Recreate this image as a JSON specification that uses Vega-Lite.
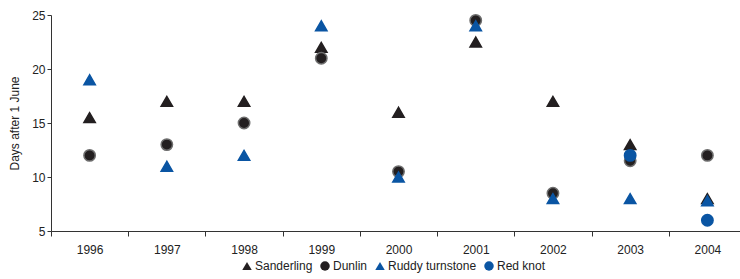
{
  "$schema": "https://vega.github.io/schema/vega-lite/v6.json",
  "autosize": "none",
  "width": 695,
  "height": 216,
  "padding": {"left": 51, "top": 15, "right": 0, "bottom": 48},
  "background": "white",
  "config": {
    "view": {"stroke": null},
    "font": "Liberation Sans",
    "axis": {"grid": false, "domainColor": "#333", "tickColor": "#333", "labelColor": "#222", "labelFontSize": 12, "titleFontWeight": "normal", "titleColor": "#222"}
  },
  "data": {
    "values": [
      {"year": "1996", "species": "Sanderling", "days": 15.5},
      {"year": "1997", "species": "Sanderling", "days": 17},
      {"year": "1998", "species": "Sanderling", "days": 17},
      {"year": "1999", "species": "Sanderling", "days": 22},
      {"year": "2000", "species": "Sanderling", "days": 16},
      {"year": "2001", "species": "Sanderling", "days": 22.5},
      {"year": "2002", "species": "Sanderling", "days": 17},
      {"year": "2003", "species": "Sanderling", "days": 13},
      {"year": "2004", "species": "Sanderling", "days": 8},
      {"year": "1996", "species": "Dunlin", "days": 12},
      {"year": "1997", "species": "Dunlin", "days": 13},
      {"year": "1998", "species": "Dunlin", "days": 15},
      {"year": "1999", "species": "Dunlin", "days": 21},
      {"year": "2000", "species": "Dunlin", "days": 10.5},
      {"year": "2001", "species": "Dunlin", "days": 24.5},
      {"year": "2002", "species": "Dunlin", "days": 8.5},
      {"year": "2003", "species": "Dunlin", "days": 11.5},
      {"year": "2004", "species": "Dunlin", "days": 12},
      {"year": "1996", "species": "Ruddy turnstone", "days": 19},
      {"year": "1997", "species": "Ruddy turnstone", "days": 11},
      {"year": "1998", "species": "Ruddy turnstone", "days": 12},
      {"year": "1999", "species": "Ruddy turnstone", "days": 24},
      {"year": "2000", "species": "Ruddy turnstone", "days": 10},
      {"year": "2001", "species": "Ruddy turnstone", "days": 24},
      {"year": "2002", "species": "Ruddy turnstone", "days": 8},
      {"year": "2003", "species": "Ruddy turnstone", "days": 8},
      {"year": "2004", "species": "Ruddy turnstone", "days": 7.8},
      {"year": "2003", "species": "Red knot", "days": 12},
      {"year": "2004", "species": "Red knot", "days": 6}
    ]
  },
  "mark": {"type": "point", "filled": true, "opacity": 1, "size": 130, "strokeWidth": 1.5},
  "encoding": {
    "x": {
      "field": "year", "type": "ordinal",
      "scale": {"paddingInner": 0, "paddingOuter": 0},
      "axis": {"title": null, "labelAngle": 0, "tickBand": "extent", "tickSize": 5, "labelPadding": 8}
    },
    "y": {
      "field": "days", "type": "quantitative",
      "scale": {"domain": [5, 25], "nice": false, "zero": false},
      "axis": {"title": "Days after 1 June", "values": [5, 10, 15, 20, 25], "tickSize": 4, "titleFontSize": 12, "titlePadding": 10}
    },
    "shape": {
      "field": "species", "type": "nominal",
      "scale": {"domain": ["Sanderling", "Dunlin", "Ruddy turnstone", "Red knot"], "range": ["triangle-up", "circle", "triangle-up", "circle"]},
      "legend": {"title": null, "orient": "none", "legendX": 190, "legendY": 245, "direction": "horizontal", "labelFontSize": 12, "labelColor": "#222", "symbolSize": 90, "symbolOffset": 0, "labelOffset": 2, "columnPadding": 6, "symbolStrokeWidth": 0}
    },
    "color": {
      "field": "species", "type": "nominal",
      "scale": {"domain": ["Sanderling", "Dunlin", "Ruddy turnstone", "Red knot"], "range": ["#231f20", "#231f20", "#0a55a3", "#0a55a3"]}
    },
    "stroke": {
      "field": "species", "type": "nominal",
      "scale": {"domain": ["Sanderling", "Dunlin", "Ruddy turnstone", "Red knot"], "range": ["#231f20", "#6e6e6e", "#0a55a3", "#0a55a3"]},
      "legend": null
    }
  }
}
